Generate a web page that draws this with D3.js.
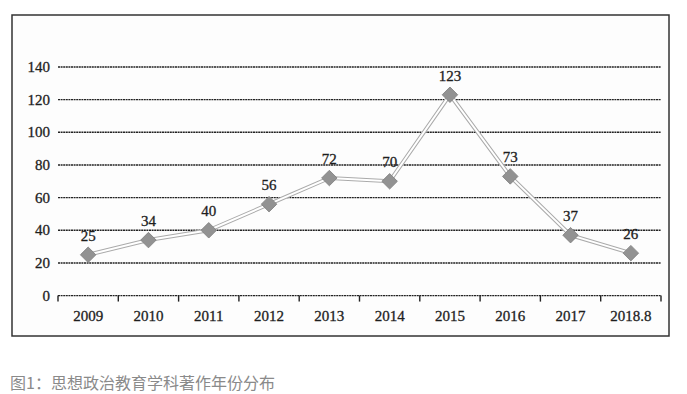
<!DOCTYPE html>
<html>
<head>
    <meta charset="utf-8">
    <style>
        body { margin: 0; background: #fff; }
        svg { display: block; }
    </style>
    <script src="https://d3js.org/d3.v7.min.js"></script>
</head>
<body>
    <svg id="chart" width="687" height="394"></svg>
    <script>
        // Data
        var years = ["2009", "2010", "2011", "2012", "2013", "2014", "2015", "2016", "2017", "2018.8"];
        var counts = [25, 34, 40, 56, 72, 70, 123, 73, 37, 26];
        var yTicks = [0, 20, 40, 60, 80, 100, 120, 140];
        var caption = "图1：思想政治教育学科著作年份分布";

        var SERIF = '"Liberation Serif", "Times New Roman", serif';

        function serifText(sel) {
            sel.style("font-family", SERIF)
               .style("font-size", "15px")
               .style("fill", "#1e1e1e")
               .style("stroke", "#1e1e1e")
               .style("stroke-width", "0.3px");
        }

        var svg = d3.select("#chart");

        // Frame of the scanned figure
        svg.append("rect")
            .attr("x", 12).attr("y", 15)
            .attr("width", 657).attr("height", 321)
            .attr("fill", "#fdfdfd")
            .attr("stroke", "#333").attr("stroke-width", 1.5);

        var x = d3.scaleBand().domain(years).range([58, 661]);
        var y = d3.scaleLinear().domain([0, 140]).range([295.6, 67]);

        // Horizontal gridlines (dotted dark lines)
        svg.append("g").selectAll("line")
            .data(yTicks)
            .join("line")
            .attr("x1", 58).attr("x2", 661)
            .attr("y1", d => y(d)).attr("y2", d => y(d))
            .attr("stroke", "#222")
            .attr("stroke-width", 1.4)
            .attr("stroke-dasharray", "2,0.6");

        // Y tick labels
        svg.append("g").selectAll("text")
            .data(yTicks)
            .join("text")
            .attr("x", 50).attr("y", d => y(d) + 5)
            .attr("text-anchor", "end")
            .text(d => d)
            .call(serifText);

        // X axis labels under the baseline
        var xAxis = d3.axisBottom(x).tickSize(0).tickFormat(d => d);
        var gx = svg.append("g").attr("transform", `translate(0,${y(0)})`).call(xAxis);
        gx.select(".domain").remove();
        gx.selectAll("text")
            .attr("dy", null)
            .attr("y", 25)
            .call(serifText);

        var bounds = years.map(d => x(d)).concat([x.range()[1]]);
        svg.append("g").selectAll("line")
            .data(bounds)
            .join("line")
            .attr("x1", d => d).attr("x2", d => d)
            .attr("y1", y(0)).attr("y2", y(0) + 6)
            .attr("stroke", "#222").attr("stroke-width", 1.4);

        // Double line
        var line = d3.line()
            .x((d, i) => x(years[i]) + x.bandwidth() / 2)
            .y(d => y(d));
        svg.append("path")
            .datum(counts)
            .attr("d", line)
            .attr("fill", "none")
            .attr("stroke", "#aaa")
            .attr("stroke-width", 4);
        svg.append("path")
            .datum(counts)
            .attr("d", line)
            .attr("fill", "none")
            .attr("stroke", "#fff")
            .attr("stroke-width", 2);

        // Diamond markers
        var sym = d3.symbol().type(d3.symbolSquare).size(120);
        svg.append("g").selectAll("path")
            .data(counts)
            .join("path")
            .attr("d", sym)
            .attr("transform", (d, i) => `translate(${x(years[i]) + x.bandwidth() / 2},${y(d)}) rotate(45)`)
            .attr("fill", "#929292")
            .attr("stroke", "#808080")
            .attr("stroke-width", 0.8);

        // Value labels
        svg.append("g").selectAll("text")
            .data(counts)
            .join("text")
            .attr("x", (d, i) => x(years[i]) + x.bandwidth() / 2)
            .attr("y", d => y(d) - 14)
            .attr("text-anchor", "middle")
            .text(d => d)
            .call(serifText);

        // Caption
        svg.append("text")
            .attr("x", 10).attr("y", 389)
            .style("font-family", '"Noto Sans CJK SC", sans-serif')
            .style("font-size", "16px")
            .style("fill", "#8a8a8a")
            .text(caption);
    </script>
</body>
</html>
